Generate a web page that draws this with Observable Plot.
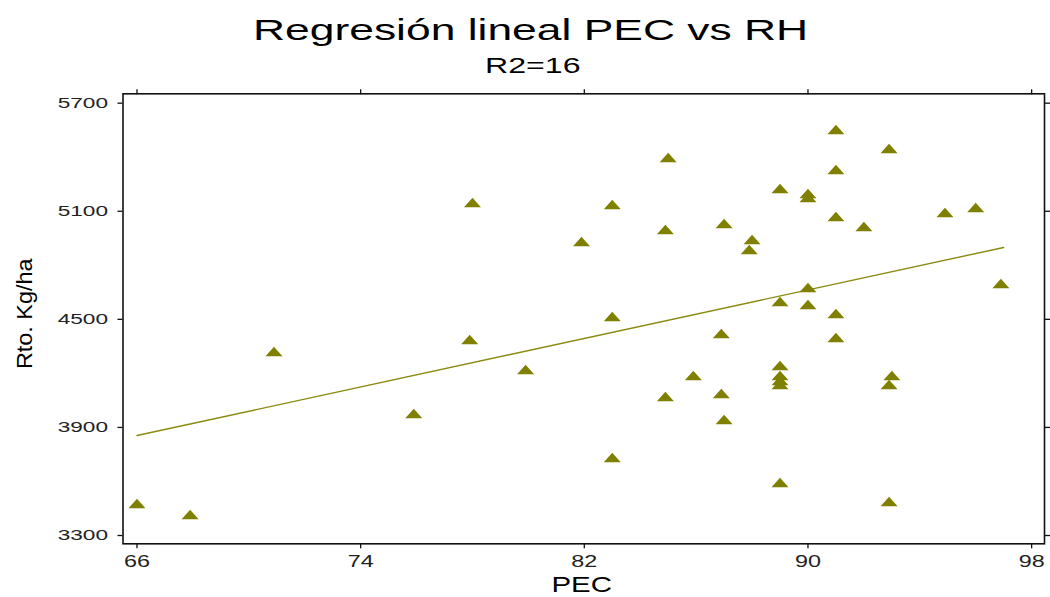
<!DOCTYPE html>
<html>
<head>
<meta charset="utf-8">
<script src="https://cdn.jsdelivr.net/npm/d3@7"></script>
<script src="https://cdn.jsdelivr.net/npm/@observablehq/plot@0.6"></script>
<style>
html, body { margin: 0; padding: 0; background: #fff; }
#wrap { position: relative; width: 1050px; height: 597px; overflow: hidden; font-family: "Liberation Sans", Arial, sans-serif; }
#title { position: absolute; left: 0; top: 14.6px; width: 1050px; text-align: center; font-size: 30px; line-height: 30px; color: #000; }
#title span { display: inline-block; position: relative; left: 6px; transform: scaleX(1.48); transform-origin: 50% 50%; white-space: nowrap; }
#subtitle { position: absolute; left: 0; top: 55.4px; width: 1050px; text-align: center; font-size: 22px; line-height: 22px; color: #000; }
#subtitle span { display: inline-block; position: relative; left: 8px; transform: scaleX(1.46); transform-origin: 50% 50%; white-space: nowrap; }
#chart { position: absolute; left: 0; top: 84px; }
</style>
</head>
<body>
<div id="wrap">
  <div id="title"><span>Regresión lineal PEC vs RH</span></div>
  <div id="subtitle"><span>R2=16</span></div>
  <div id="chart"></div>
</div>
<script>
const pec = [66, 67.9, 70.9, 75.9, 77.9, 78, 79.9, 81.9, 83, 83, 83,
             85, 84.9, 84.9, 85.9, 87, 86.9, 86.9, 87, 88, 87.9,
             89, 89, 89, 89, 89, 89, 89, 90, 90, 90, 90,
             91, 91, 91, 91, 91, 92, 92.9, 93, 92.9, 92.9, 94.9, 96, 96.9];
const rto = [3478, 3417, 4322, 3977, 4388, 5149, 4222, 4932, 5138, 4516, 3733,
             5399, 4999, 4072, 4188, 5032, 4421, 4088, 3944, 4943, 4888,
             5226, 4599, 4244, 4188, 4160, 4138, 3594, 5199, 5176, 4677, 4582,
             5554, 5332, 5071, 4533, 4399, 5016, 5449, 4188, 4138, 3489, 5093, 5121, 4699];
// regression line end points
const fitPec = [66, 97];
const fitRto = [3855, 4899];
// axis ticks and labels
const xTicks = [66, 74, 82, 90, 98];
const yTicks = [3300, 3900, 4500, 5100, 5700];
const xLabel = "PEC";
const yLabel = "Rto. Kg/ha";

const points = pec.map((x, i) => ({pec: x, rto: rto[i]}));
const fit = fitPec.map((x, i) => ({pec: x, rto: fitRto[i]}));

const flatTriangle = {
  draw(ctx, size) {
    const w = 8.5, h = 4.75;
    ctx.moveTo(0, -h);
    ctx.lineTo(w, h);
    ctx.lineTo(-w, h);
    ctx.closePath();
  }
};

const svg = Plot.plot({
  width: 1050,
  height: 513,
  marginLeft: 122.5,
  marginRight: 6,
  marginTop: 9.3,
  marginBottom: 53.7,
  style: {fontFamily: '"Liberation Sans", Arial, sans-serif', background: "#fff", overflow: "visible"},
  x: {domain: [65.5, 98.46], axis: null},
  y: {domain: [3254, 5752], axis: null},
  marks: [
    Plot.axisX({ticks: xTicks, anchor: "bottom", tickSize: 5, tickPadding: 7.2, fontSize: 16, stroke: "#111", fill: "#222", strokeWidth: 1.3, tickFormat: d => String(d), label: null}),
    Plot.axisX({ticks: xTicks, anchor: "top", tickSize: 5, stroke: "#111", fill: "none", strokeWidth: 1.3, tickFormat: () => "", label: null}),
    Plot.axisY({ticks: yTicks, anchor: "left", tickSize: 5, tickPadding: 10, fontSize: 15.5, stroke: "#111", fill: "#222", strokeWidth: 1.3, tickFormat: d => String(d), label: null}),
    Plot.axisY({ticks: yTicks, anchor: "right", tickSize: 5, stroke: "#111", fill: "none", strokeWidth: 1.3, tickFormat: () => "", label: null}),
    Plot.line(fit, {x: "pec", y: "rto", stroke: "#8a8a10", strokeWidth: 1.4}),
    Plot.dot(points, {x: "pec", y: "rto", symbol: flatTriangle, fill: "#808000", stroke: "none"}),
    Plot.frame({stroke: "#111", strokeWidth: 1.6}),
    Plot.text([xLabel], {text: d => d, frameAnchor: "bottom", textAnchor: "middle", dx: -2, dy: 41, fontSize: 22, lineAnchor: "middle", fill: "#000"}),
    Plot.text([yLabel], {text: d => d, frameAnchor: "left", textAnchor: "middle", rotate: -90, dx: -98.5, dy: -5, fontSize: 22.5, lineAnchor: "middle", fill: "#000"})
  ]
});

// the reference uses a horizontally wide font: widen each text along its baseline
d3.select(svg).selectAll("text").each(function() {
  const txt = (this.textContent || "").trim();
  const s = txt === xLabel ? 1.34 : txt === yLabel ? 1.04 : 1.46;
  let t = this.getAttribute("transform");
  if (t == null) {
    const x = this.getAttribute("x") || 0;
    this.removeAttribute("x");
    t = `translate(${x},0)`;
  }
  this.setAttribute("transform", t + ` scale(${s},1)`);
});

document.getElementById("chart").appendChild(svg);
</script>
</body>
</html>
